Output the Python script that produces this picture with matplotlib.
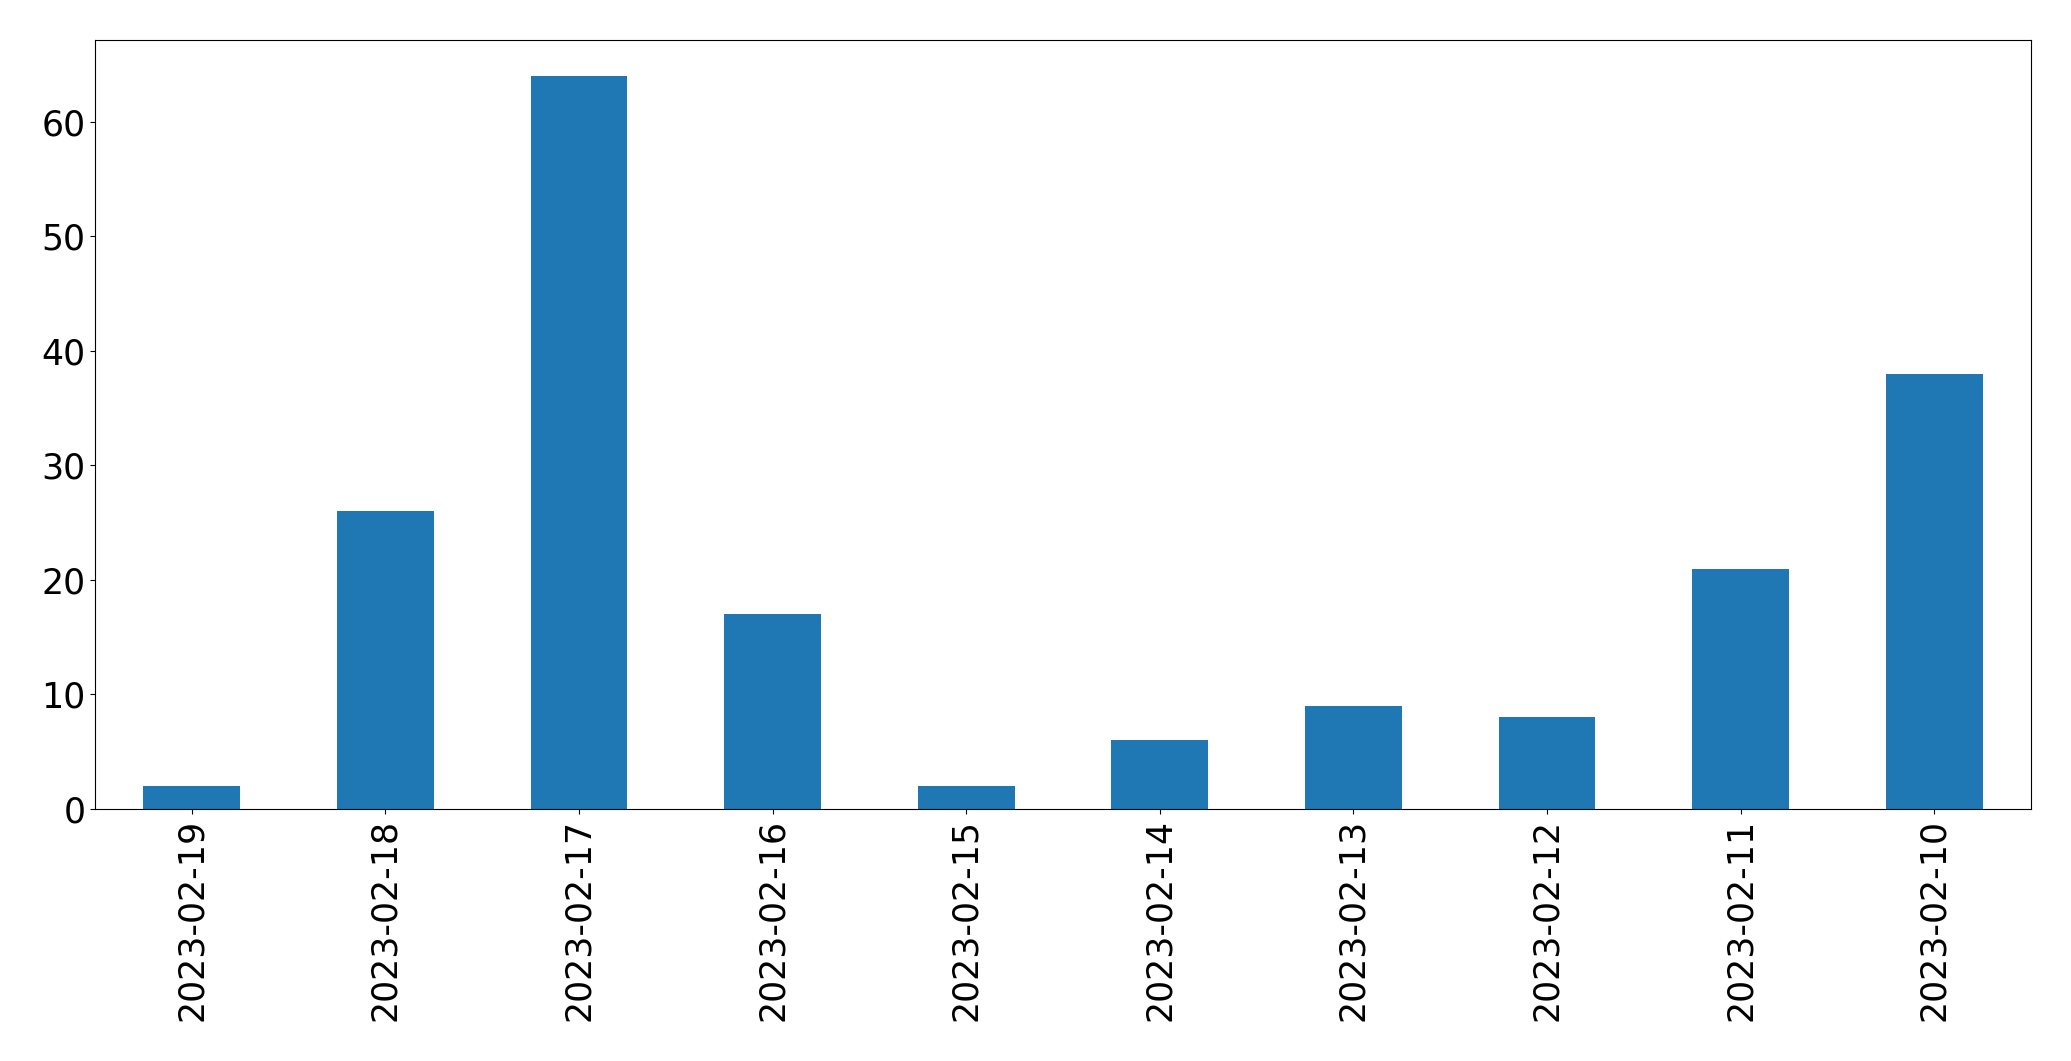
import matplotlib
matplotlib.use("Agg")
import matplotlib.pyplot as plt

dates = ["2023-02-19", "2023-02-18", "2023-02-17", "2023-02-16", "2023-02-15",
         "2023-02-14", "2023-02-13", "2023-02-12", "2023-02-11", "2023-02-10"]
counts = [2, 26, 64, 17, 2, 6, 9, 8, 21, 38]

fig = plt.figure(figsize=(20.71, 10.61), dpi=100)
ax = fig.add_axes([95 / 2071, 1 - 809 / 1061, (2031 - 95) / 2071, (809 - 39.5) / 1061])
x = list(range(len(dates)))
ax.bar(x, counts, width=0.5, color="#1f77b4")
ax.set_xlim(-0.5, len(dates) - 0.5)
ax.set_xticks(x)
ax.set_xticklabels(dates, rotation=90)
ax.tick_params(axis="both", labelsize=25)
fig.savefig("out.png", dpi=100)
